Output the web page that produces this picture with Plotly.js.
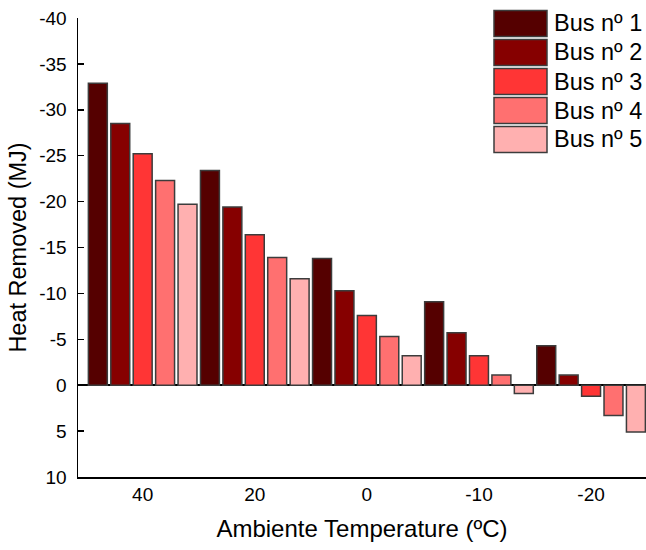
<!DOCTYPE html>
<html>
<head>
<meta charset="utf-8">
<script src="https://cdn.plot.ly/plotly-3.0.1.min.js"></script>
<style>html,body{margin:0;padding:0;background:#fff;}#chart{width:646px;height:550px;}</style>
</head>
<body>
<div id="chart"></div>
<script>
const categories = ['40', '20', '0', '-10', '-20'];
const seriesNames = ['Bus nº 1', 'Bus nº 2', 'Bus nº 3', 'Bus nº 4', 'Bus nº 5'];
const bus1 = [-32.9, -23.4, -13.8, -9.1, -4.3];
const bus2 = [-28.5, -19.4, -10.3, -5.7, -1.1];
const bus3 = [-25.2, -16.4, -7.6, -3.2, 1.2];
const bus4 = [-22.3, -13.9, -5.3, -1.1, 3.3];
const bus5 = [-19.7, -11.6, -3.2, 0.9, 5.1];
const yTicks = [-40, -35, -30, -25, -20, -15, -10, -5, 0, 5, 10];

const colors = ['#550000', '#860000', '#ff3535', '#ff7070', '#ffb0b0'];
const outline = '#3c3c3c';
const FONT = 'Liberation Sans, Arial, sans-serif';
const series = [bus1, bus2, bus3, bus4, bus5];

const traces = series.map((vals, i) => ({
  type: 'bar',
  name: seriesNames[i],
  x: categories,
  y: vals,
  marker: {color: colors[i], line: {color: outline, width: 1.5}},
  showlegend: false,
  hoverinfo: 'x+y+name'
}));

// custom legend (large swatches like the reference)
const L = 78, R = 646, T = 18, B = 477;
const px2x = p => (p - L) / (R - L);
const px2y = p => (B - p) / (B - T);
const shapes = [];
const annotations = [];
seriesNames.forEach((nm, i) => {
  const top = 10.5 + i * 29;
  const bot = top + 26;
  shapes.push({
    type: 'rect', xref: 'paper', yref: 'paper',
    x0: px2x(494), x1: px2x(547), y0: px2y(bot), y1: px2y(top),
    fillcolor: colors[i], line: {color: outline, width: 1.5}
  });
  annotations.push({
    xref: 'paper', yref: 'paper', x: px2x(552), y: px2y((top + bot) / 2),
    xanchor: 'left', yanchor: 'middle', showarrow: false,
    text: nm, font: {family: FONT, size: 23.5, color: '#000'}
  });
});

const layout = {
  width: 646, height: 550,
  margin: {l: 78, r: 0, t: 18, b: 73},
  paper_bgcolor: '#fff', plot_bgcolor: '#fff',
  barmode: 'group', bargap: 0, bargroupgap: 0.155,
  font: {family: FONT, color: '#000'},
  xaxis: {
    type: 'category', range: [-0.577, 4.49],
    showline: true, linecolor: '#000', linewidth: 1.5,
    ticks: '', showgrid: false, zeroline: false,
    tickfont: {family: FONT, size: 19, color: '#000'},
    title: {text: 'Ambiente Temperature (ºC)', font: {family: FONT, size: 24, color: '#000'}, standoff: 16},
    fixedrange: true
  },
  yaxis: {
    range: [10, -40], tickvals: yTicks, ticktext: yTicks.map(String),
    showline: true, linecolor: '#000', linewidth: 1.5,
    ticks: 'inside', ticklen: 6, tickwidth: 1.5, tickcolor: '#000',
    showgrid: false, zeroline: true, zerolinecolor: '#000', zerolinewidth: 1.5,
    tickfont: {family: FONT, size: 19, color: '#000'},
    ticklabelstandoff: 6,
    title: {text: 'Heat Removed (MJ)', font: {family: FONT, size: 23.5, color: '#000'}, standoff: 6},
    fixedrange: true
  },
  shapes: shapes,
  annotations: annotations
};

Plotly.newPlot('chart', traces, layout, {displayModeBar: false, staticPlot: true});
</script>
</body>
</html>
